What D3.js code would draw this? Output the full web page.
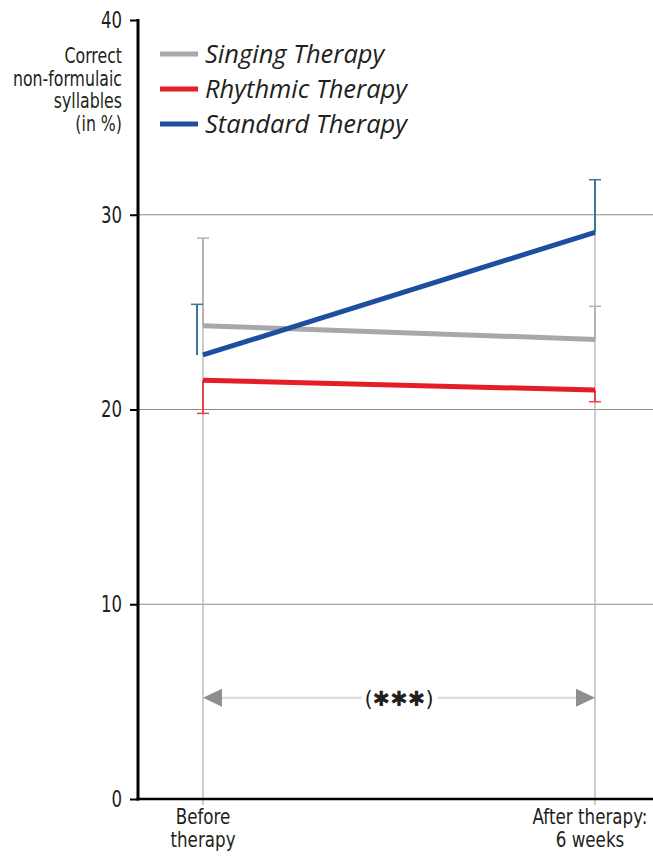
<!DOCTYPE html>
<html>
<head>
<meta charset="utf-8">
<script src="https://cdn.jsdelivr.net/npm/d3@7"></script>
<style>
  body { margin: 0; background: #fff; }
  text { font-family: "DejaVu Sans", sans-serif; fill: #231f20; }
  .legend text { font-family: "Open Sans", sans-serif; font-style: italic; }
</style>
</head>
<body>
<div id="graph"></div>
<script>
// categories and tick labels
var timepoints = ["before", "after"];
var timeLabels = [["Before", "therapy"], ["After therapy:", "6 weeks"]];
var yTicks = [0, 10, 20, 30, 40];
var seriesNames = ["Singing Therapy", "Rhythmic Therapy", "Standard Therapy"];

// means (in %)
var singing = [24.3, 23.6];
var rhythmic = [21.5, 21.0];
var standard = [22.8, 29.1];

// error bar ends (one-sided)
var singingErr = [28.8, 25.3];
var rhythmicErr = [19.8, 20.4];
var standardErr = [25.4, 31.8];

var width = 653;
var height = 864;
var margin = {top: 20, left: 138, bottom: 65, right: 0};

var svg = d3.select("#graph").append("svg")
  .attr("width", width)
  .attr("height", height);

var y = d3.scaleLinear().domain([0, 40]).range([height - margin.bottom, margin.top]);
var x = d3.scalePoint().domain(timepoints).range([203, 595]);

var series = [
  {name: seriesNames[0], values: singing, err: singingErr, color: "#a7a8aa", errColor: "#b3b4b6", dx: 0},
  {name: seriesNames[1], values: rhythmic, err: rhythmicErr, color: "#e31e26", errColor: "#e0474c", dx: 0},
  {name: seriesNames[2], values: standard, err: standardErr, color: "#1d4e9f", errColor: "#3a7696", dx: -6}
];

// squeeze glyphs so the labels look like a condensed face
function condense(sel, k) {
  sel.each(function() {
    var len = this.getComputedTextLength();
    d3.select(this).attr("textLength", len * k).attr("lengthAdjust", "spacingAndGlyphs");
  });
}

// horizontal grid
svg.append("g")
  .selectAll("line")
  .data(yTicks.filter(function(d) { return d > 0 && d < 40; }))
  .enter().append("line")
  .attr("x1", margin.left)
  .attr("x2", width)
  .attr("y1", function(d) { return y(d); })
  .attr("y2", function(d) { return y(d); })
  .attr("stroke", "#8c8c8c")
  .attr("stroke-width", 1);

// vertical lines at the time points
var topErr = [d3.max(series, function(s) { return s.dx === 0 ? s.err[0] : 0; }), d3.max(series, function(s) { return s.err[1]; })];
svg.append("g")
  .selectAll("line")
  .data(timepoints)
  .enter().append("line")
  .attr("x1", function(d) { return x(d); })
  .attr("x2", function(d) { return x(d); })
  .attr("y1", function(d, i) { return y(topErr[i]); })
  .attr("y2", y(0) + 6)
  .attr("stroke", "#bdbdbd")
  .attr("stroke-width", 1.5);

// y axis
var yAxis = d3.axisLeft(y).tickValues(yTicks).tickSize(8).tickPadding(8);
var ya = svg.append("g")
  .attr("transform", "translate(" + margin.left + ",0)")
  .call(yAxis);
ya.select(".domain").remove();
ya.selectAll(".tick line").attr("stroke", "#000").attr("stroke-width", 2);
ya.selectAll(".tick text")
  .attr("font-size", "23px")
  .attr("fill", "#231f20")
  .style("font-family", "'DejaVu Sans', sans-serif")
  .call(condense, 0.72);

svg.append("line")
  .attr("x1", margin.left).attr("x2", margin.left)
  .attr("y1", y(40) - 1).attr("y2", y(0) + 1.5)
  .attr("stroke", "#000").attr("stroke-width", 3);

// x axis
svg.append("line")
  .attr("x1", margin.left - 1.5).attr("x2", width)
  .attr("y1", y(0)).attr("y2", y(0))
  .attr("stroke", "#000").attr("stroke-width", 2.5);

var xCenters = [x("before"), x("after") - 5];
timeLabels.forEach(function(lines, i) {
  svg.append("g").selectAll("text")
    .data(lines)
    .enter().append("text")
    .attr("x", xCenters[i])
    .attr("y", function(d, j) { return y(0) + 25 + j * 23; })
    .attr("text-anchor", "middle")
    .attr("font-size", "22px")
    .text(function(d) { return d; })
    .call(condense, 0.76);
});

// y axis title
var yTitle = ["Correct", "non-formulaic", "syllables", "(in %)"];
svg.append("g").selectAll("text")
  .data(yTitle)
  .enter().append("text")
  .attr("x", 122)
  .attr("y", function(d, i) { return 63 + i * 22.5; })
  .attr("text-anchor", "end")
  .attr("font-size", "21px")
  .text(function(d) { return d; })
  .call(condense, 0.75);

// error bars
series.forEach(function(s) {
  var g = svg.append("g");
  timepoints.forEach(function(t, i) {
    var cx = x(t) + (i === 0 ? s.dx : 0);
    g.append("line")
      .attr("x1", cx).attr("x2", cx)
      .attr("y1", y(s.values[i])).attr("y2", y(s.err[i]))
      .attr("stroke", s.errColor).attr("stroke-width", 2);
    g.append("line")
      .attr("x1", cx - 6).attr("x2", cx + 6)
      .attr("y1", y(s.err[i])).attr("y2", y(s.err[i]))
      .attr("stroke", s.errColor).attr("stroke-width", 1.5);
  });
});

// series lines
var line = d3.line()
  .x(function(d, i) { return x(timepoints[i]); })
  .y(function(d) { return y(d); });

svg.append("g").selectAll("path")
  .data(series)
  .enter().append("path")
  .attr("d", function(s) { return line(s.values); })
  .attr("fill", "none")
  .attr("stroke", function(s) { return s.color; })
  .attr("stroke-width", 5);

// significance arrow
var ay = y(5.2);
svg.append("line")
  .attr("x1", x("before") + 10).attr("x2", x("after") - 10)
  .attr("y1", ay).attr("y2", ay)
  .attr("stroke", "#d9d9d9").attr("stroke-width", 2);
svg.append("path")
  .attr("d", "M" + x("before") + "," + ay + "l19,-9v18z")
  .attr("fill", "#8e8e8e");
svg.append("path")
  .attr("d", "M" + x("after") + "," + ay + "l-19,-9v18z")
  .attr("fill", "#8e8e8e");
svg.append("rect")
  .attr("x", 362).attr("y", ay - 12).attr("width", 76).attr("height", 24)
  .attr("fill", "#fff");
svg.append("text")
  .attr("x", (x("before") + x("after")) / 2)
  .attr("y", ay + 8)
  .attr("text-anchor", "middle")
  .attr("font-size", "21px")
  .attr("fill", "#333")
  .text("(\u2731\u2731\u2731)");

// legend
var legend = svg.append("g").attr("class", "legend");
series.forEach(function(s, i) {
  var ly = 54 + i * 35;
  legend.append("line")
    .attr("x1", 160).attr("x2", 198)
    .attr("y1", ly).attr("y2", ly)
    .attr("stroke", s.color).attr("stroke-width", 5);
  legend.append("text")
    .attr("x", 205).attr("y", ly + 9)
    .attr("font-size", "25.5px")
    .attr("fill", "#231f20")
    .text(s.name);
});
</script>
</body>
</html>
